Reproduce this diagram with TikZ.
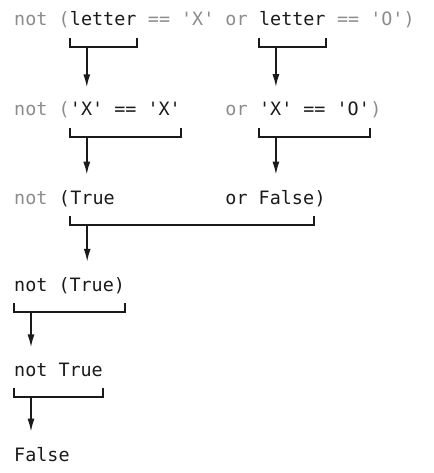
\documentclass[tikz,border=0pt]{standalone}
\usepackage{fontspec}
\setmonofont{DejaVu Sans Mono}
\usetikzlibrary{arrows.meta}
\definecolor{dimtext}{HTML}{8C8C8C}
\definecolor{ink}{HTML}{1A1A1A}
\tikzset{>={Latex[length=13pt,width=7pt]}}
\tikzset{code/.style={inner sep=0pt,anchor=base west,text=ink,
    font=\ttfamily\fontsize{18.4pt}{22pt}\selectfont},
  dim/.style={code,text=dimtext},
  brk/.style={draw=ink,line width=1.7pt},
  flow/.style={->,draw=ink,line width=1.7pt,shorten >=15pt}}
\newcommand\underbrk[2]{%
  \draw[brk] ([yshift=-12pt]#1.base west) |- ([yshift=-21pt]#1.base east)
    -- ([yshift=-12pt]#1.base east);
  \coordinate (#2) at ([xshift=17pt,yshift=-21pt]#1.base west);}

\begin{document}
\begin{tikzpicture}[x=1pt,y=-1pt]
\useasboundingbox (0,0) rectangle (433,473);
\node[dim] (r1a) at (14,26) {not (};
\node[code] (r1b) at (r1a.base east) {letter};
\node[dim] (r1c) at (r1b.base east) {\ == 'X' or\ \null};
\node[code] (r1d) at (r1c.base east) {letter};
\node[dim] (r1e) at (r1d.base east) {\ == 'O')};

\node[dim] (r2a) at (14,116) {not (};
\node[code] (r2b) at (r2a.base east) {'X' == 'X'};
\node[dim] (r2c) at (r2b.base east) {\ \ \ \ or\ \null};
\node[code] (r2d) at (r2c.base east) {'X' == 'O'};
\node[dim] (r2e) at (r2d.base east) {)};

\node[dim] (r3a) at (14,204) {not\ \null};
\node[code] (r3b) at (r3a.base east) {(};
\node[code] (r3c) at (r3b.base east) {True\ \ \ \ \ \ \ \ \ \ or False};
\node[code] (r3d) at (r3c.base east) {)};

\node[code] (r4) at (14,291) {not (True)};
\node[code] (r5) at (14,376) {not True};
\node[code] (r6) at (14,461) {False};

\underbrk{r1b}{k1}
\underbrk{r1d}{k2}
\underbrk{r2b}{k3}
\underbrk{r2d}{k4}
\underbrk{r3c}{k5}
\underbrk{r4}{k6}
\underbrk{r5}{k7}
\draw[flow] (k1) -- (k1 |- r2b.north);
\draw[flow] (k2) -- (k2 |- r2d.north);
\draw[flow] (k3) -- (k3 |- r3c.north);
\draw[flow] (k4) -- (k4 |- r3c.north);
\draw[flow] (k5) -- (k5 |- r4.north);
\draw[flow] (k6) -- (k6 |- r5.north);
\draw[flow] (k7) -- (k7 |- r6.north);
\end{tikzpicture}
\end{document}
